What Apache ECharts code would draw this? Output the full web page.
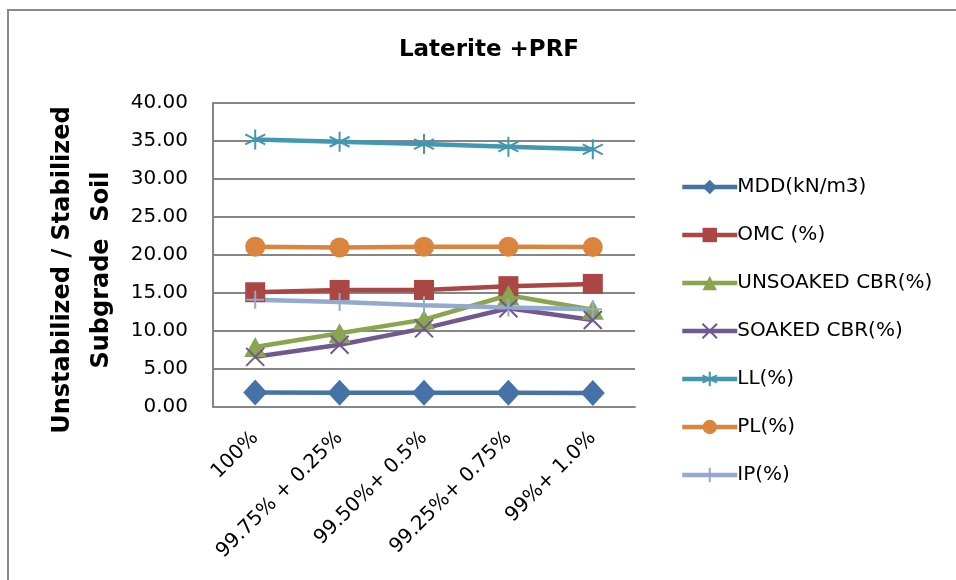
<!DOCTYPE html>
<html>
<head>
<meta charset="utf-8">
<script src="https://cdn.jsdelivr.net/npm/echarts@6/dist/echarts.min.js"></script>
<style>html,body{margin:0;padding:0;background:#fff}#c{width:956px;height:580px}</style>
</head>
<body>
<div id="c"></div>
<script>
const categories = ['100%', '99.75% + 0.25%', '99.50%+ 0.5%', '99.25%+ 0.75%', '99%+ 1.0%'];
const mdd = [1.90, 1.89, 1.88, 1.86, 1.84];
const omc = [15.1, 15.4, 15.4, 15.9, 16.2];
const unsoaked = [7.9, 9.7, 11.5, 14.7, 12.8];
const soaked = [6.6, 8.2, 10.35, 13.0, 11.45];
const ll = [35.2, 34.9, 34.6, 34.25, 33.9];
const pl = [21.1, 21.0, 21.1, 21.1, 21.05];
const ip = [14.1, 13.8, 13.4, 13.1, 12.85];
const seriesNames = ['MDD(kN/m3)', 'OMC (%)', 'UNSOAKED CBR(%)', 'SOAKED CBR(%)', 'LL(%)', 'PL(%)', 'IP(%)'];
const yTicks = {min: 0, max: 40, interval: 5};

const FONT = 'DejaVu Sans';
const colors = ['#4572A7', '#AA4643', '#89A54E', '#71588F', '#4198AF', '#DB843D', '#93A9CF'];
const asterisk = 'path://M10,0L10,20M1.34,5L18.66,15M1.34,15L18.66,5';
const cross = 'path://M0,0L20,20M0,20L20,0';
const plus = 'path://M10,0L10,20M0,10L20,10';

function mk(name, data, color, symbol, size, stroke) {
  return {
    name: name, type: 'line', data: data, symbol: symbol, symbolSize: size,
    lineStyle: {color: color, width: 4.5},
    itemStyle: {color: color, borderColor: color, borderWidth: stroke ? 2 : 0},
    emphasis: {disabled: true}, animation: false
  };
}

const chart = echarts.init(document.getElementById('c'));
chart.setOption({
  animation: false,
  title: {
    text: 'Laterite +PRF', left: 484, top: 34, textAlign: 'center',
    textStyle: {fontFamily: FONT, fontSize: 23, fontWeight: 'bold', color: '#000'}
  },
  graphic: [
    {type: 'rect', shape: {x: 8, y: 10, width: 1000, height: 600}, style: {fill: 'none', stroke: '#898989', lineWidth: 2}, silent: true},
    {type: 'text', x: 82, y: 270, rotation: Math.PI / 2,
      style: {text: 'Unstabilized / Stabilized\nSubgrade  Soil', fontFamily: FONT, fontSize: 24, fontWeight: 'bold', fill: '#000', align: 'center', verticalAlign: 'middle', lineHeight: 39}}
  ],
  legend: {
    orient: 'vertical', left: 675, top: 172, itemWidth: 55, itemHeight: 18, itemGap: 28,
    data: seriesNames,
    lineStyle: {width: 4.5},
    textStyle: {fontFamily: FONT, fontSize: 20, color: '#000', padding: [0, 0, 0, -5]}
  },
  grid: {left: 213, right: 321, top: 103, bottom: 173},
  xAxis: {
    type: 'category', data: categories, boundaryGap: true,
    axisLine: {lineStyle: {color: '#868686', width: 2}},
    axisTick: {show: false},
    axisLabel: {rotate: 45, margin: 28, fontFamily: FONT, fontSize: 20, color: '#000', interval: 0}
  },
  yAxis: {
    type: 'value', min: yTicks.min, max: yTicks.max, interval: yTicks.interval,
    axisLine: {show: true, lineStyle: {color: '#868686', width: 2}},
    axisTick: {show: false},
    splitLine: {lineStyle: {color: '#868686', width: 2}},
    axisLabel: {formatter: v => v.toFixed(2), margin: 25, fontFamily: FONT, fontSize: 20, color: '#000'}
  },
  series: [
    mk(seriesNames[0], mdd, colors[0], 'diamond', [24, 26], false),
    mk(seriesNames[1], omc, colors[1], 'rect', 20, false),
    mk(seriesNames[2], unsoaked, colors[2], 'triangle', [22, 20], false),
    mk(seriesNames[3], soaked, colors[3], cross, 18, true),
    mk(seriesNames[4], ll, colors[4], asterisk, 20, true),
    mk(seriesNames[5], pl, colors[5], 'circle', 20, false),
    mk(seriesNames[6], ip, colors[6], plus, 18, true)
  ]
});
</script>
</body>
</html>
